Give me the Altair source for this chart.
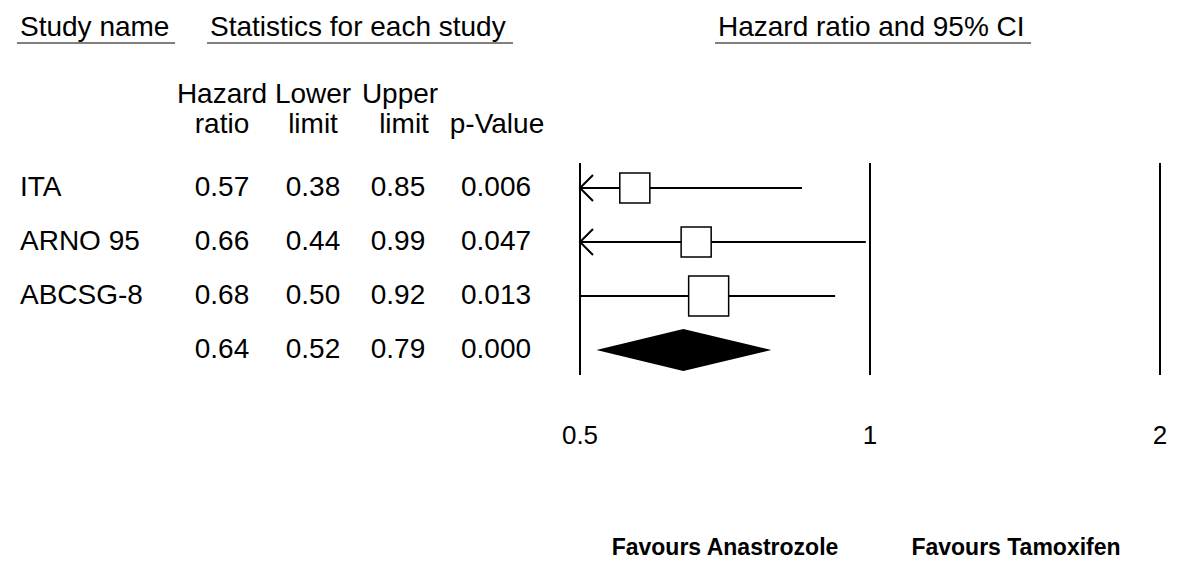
import altair as alt
import pandas as pd

# ---- data ----
studies = ["ITA", "ARNO 95", "ABCSG-8", ""]
hazard = [0.57, 0.66, 0.68, 0.64]
lower = [0.38, 0.44, 0.50, 0.52]
upper = [0.85, 0.99, 0.92, 0.79]
pvalues = ["0.006", "0.047", "0.013", "0.000"]
weights = [26.5, 26.5, 47.0, None]
is_summary = [False, False, False, True]
ref_ticks = [0.5, 1, 2]
tick_labels = ["0.5", "1", "2"]

FONT = "Liberation Sans"
TS = 28  # table font size

df = pd.DataFrame({
    "row": list(range(len(studies))),
    "study": studies,
    "hr": hazard,
    "lo": lower,
    "hi": upper,
    "p": pvalues,
    "w": weights,
    "summary": is_summary,
})
df["hr_s"] = [f"{v:.2f}" for v in hazard]
df["lo_s"] = [f"{v:.2f}" for v in lower]
df["hi_s"] = [f"{v:.2f}" for v in upper]

# summary diamond: lower limit, point estimate, upper limit of the pooled row
srow = is_summary.index(True)
diamond_df = pd.DataFrame({
    "xv": [lower[srow], hazard[srow], upper[srow]],
    "k": ["lo", "hr", "hi"],
    "row": [srow] * 3,
})

xs = alt.Scale(type="log", domain=[0.5, 2], range=[572, 1152], clamp=True, nice=False)
ys = alt.Scale(domain=[0, 3], range=[180, 342], nice=False, zero=False)

base = alt.Chart(df)
one = pd.DataFrame({"k": [0]})


def label(text, x, y, align="left", size=TS, weight="normal"):
    return alt.Chart(one).mark_text(
        text=text, align=align, baseline="middle", fontSize=size,
        font=FONT, fontWeight=weight, color="black"
    ).encode(x=alt.value(x), y=alt.value(y))


def underline(x1, x2, y):
    return alt.Chart(one).mark_rule(color="#555555", strokeWidth=1.5).encode(
        x=alt.value(x1), x2=alt.value(x2), y=alt.value(y))


# reference vertical lines
refs_df = pd.DataFrame({"t": ref_ticks, "label": tick_labels})
refs = alt.Chart(refs_df).mark_rule(color="black", strokeWidth=2).encode(
    x=alt.X("t:Q", scale=xs, axis=None), y=alt.value(155), y2=alt.value(367))
tick_text = alt.Chart(refs_df).mark_text(
    fontSize=26, font=FONT, baseline="middle", align="center", color="black"
).encode(x=alt.X("t:Q", scale=xs, axis=None), y=alt.value(428), text="label:N")

# confidence intervals
ci = base.transform_filter("!datum.summary").mark_rule(color="black", strokeWidth=2).encode(
    x=alt.X("lo:Q", scale=xs, axis=None), x2="hi:Q",
    y=alt.Y("row:Q", scale=ys, axis=None))

arrows = base.transform_filter("datum.lo < 0.5").mark_point(
    shape="M1,-1L0,0L1,1", filled=False, stroke="black", strokeWidth=2,
    size=676, opacity=1
).encode(x=alt.X("lo:Q", scale=xs, axis=None), y=alt.Y("row:Q", scale=ys, axis=None))

boxes = base.transform_filter("!datum.summary").mark_point(
    shape="square", filled=True, fill="white", stroke="black", strokeWidth=1.5, opacity=1
).encode(
    x=alt.X("hr:Q", scale=xs, axis=None),
    y=alt.Y("row:Q", scale=ys, axis=None),
    size=alt.Size("w:Q", scale=alt.Scale(domain=[0, 47], range=[0, 1600]), legend=None))

diamond = alt.Chart(diamond_df).transform_calculate(
    h="datum.k == 'hr' ? 0.39 : 0",
    ya="datum.row - datum.h",
    yb="datum.row + datum.h",
).mark_area(color="black", opacity=1, orient="vertical").encode(
    x=alt.X("xv:Q", scale=xs, axis=None),
    y=alt.Y("ya:Q", scale=ys, axis=None, stack=None),
    y2="yb:Q")


# table text
def column(field, x, align="center"):
    return base.mark_text(fontSize=TS, font=FONT, baseline="middle", align=align, color="black").encode(
        x=alt.value(x), y=alt.Y("row:Q", scale=ys, axis=None), text=f"{field}:N")


names = column("study", 12, "left")
c_hr = column("hr_s", 214)
c_lo = column("lo_s", 305)
c_hi = column("hi_s", 390)
c_p = column("p", 488)

layers = [
    label("Study name", 12, 20), underline(9, 167, 35),
    label("Statistics for each study", 202, 20), underline(199, 505, 35),
    label("Hazard ratio and 95% CI", 710, 20), underline(707, 1023, 35),
    label("Hazard", 214, 87, "center"), label("ratio", 214, 117, "center"),
    label("Lower", 305, 87, "center"), label("limit", 305, 117, "center"),
    label("Upper", 392, 87, "center"), label("limit", 396, 117, "center"),
    label("p-Value", 489, 117, "center"),
    refs, tick_text, ci, arrows, boxes, diamond,
    names, c_hr, c_lo, c_hi, c_p,
    label("Favours Anastrozole", 717, 540, "center", 23, "bold"),
    label("Favours Tamoxifen", 1008, 540, "center", 23, "bold"),
]

chart = alt.layer(*layers).properties(
    width=1184, height=557, padding=0, autosize="none"
).configure_view(stroke=None)

chart.save("out.html", embed_options={"renderer": "svg", "actions": False})
